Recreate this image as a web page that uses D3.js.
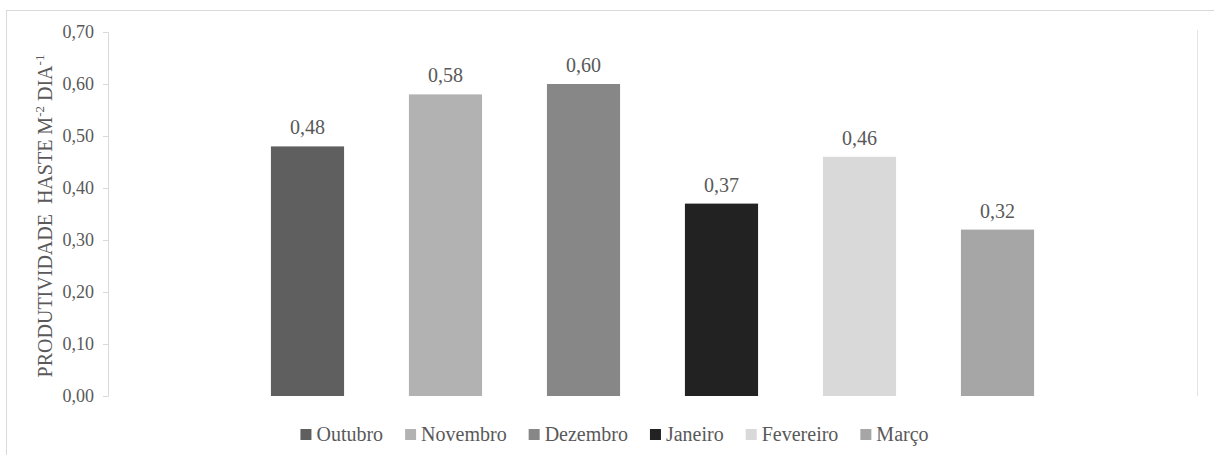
<!DOCTYPE html>
<html><head><meta charset="utf-8">
<script src="https://cdn.jsdelivr.net/npm/d3@7"></script>
</head><body style="margin:0;background:#fff">
<script>
const months = ["Outubro","Novembro","Dezembro","Janeiro","Fevereiro","Março"];
const values = [0.48,0.58,0.60,0.37,0.46,0.32];
const colors = ["#5f5f5f","#b2b2b2","#878787","#222222","#d9d9d9","#a6a6a6"];
const yTicks = [0,0.1,0.2,0.3,0.4,0.5,0.6,0.7];

(function(){
const FF="Liberation Serif";
const TC="#595959";
const W=1214,H=455;
const svg=d3.select("body").append("svg").attr("width",W).attr("height",H)
  .style("display","block").attr("font-family",FF);
svg.append("rect").attr("x",6.5).attr("y",10.5).attr("width",1230).attr("height",470)
  .attr("fill","none").attr("stroke","#d9d9d9");

const pLeft=108,pRight=1197,pTop=32,pBottom=396;
const y=d3.scaleLinear().domain([0,0.7]).range([pBottom,pTop]);
const x0=d3.scaleBand().domain(["g"]).range([pLeft,pRight]).paddingOuter(0.1576);
const x=d3.scaleBand().domain(months).range([x0("g"),x0("g")+x0.bandwidth()]).paddingInner(0.47).paddingOuter(0.235);

const fmt=v=>d3.format(".2f")(v).replace(".",",");
const ya=svg.append("g").attr("transform",`translate(${pLeft},0)`)
  .call(d3.axisLeft(y).tickValues(yTicks).tickFormat(fmt).tickSize(5).tickPadding(9));
ya.attr("font-family",FF).attr("font-size",18);
ya.select(".domain").attr("stroke","#d9d9d9").attr("d",`M-5,${pTop+0.5}H0.5V${pBottom+0.5}H-5`);
ya.selectAll(".tick line").attr("stroke","#d9d9d9");
ya.selectAll(".tick text").attr("font-family",FF).attr("font-size",18).attr("fill",TC).attr("dy","0.3em");

svg.append("line").attr("x1",pRight+0.5).attr("x2",pRight+0.5).attr("y1",30).attr("y2",pBottom)
  .attr("stroke","#e3e3e3");

svg.selectAll("rect.bar").data(months).join("rect").attr("class","bar")
  .attr("x",d=>x(d)).attr("width",x.bandwidth())
  .attr("y",(d,i)=>y(values[i])).attr("height",(d,i)=>y(0)-y(values[i]))
  .attr("fill",(d,i)=>colors[i]);

svg.selectAll("text.val").data(months).join("text").attr("class","val")
  .attr("x",d=>x(d)+x.bandwidth()/2).attr("y",(d,i)=>y(values[i])-12)
  .attr("text-anchor","middle").attr("fill",TC)
  .attr("font-family",FF).attr("font-size",20).text((d,i)=>fmt(values[i]));

const yt=svg.append("text").attr("transform","translate(52,216) rotate(-90)")
  .attr("text-anchor","middle").attr("fill",TC).attr("font-family",FF).attr("font-size",20);
yt.append("tspan").text("PRODUTIVIDADE\u00a0 HASTE M");
yt.append("tspan").attr("dy",-8).attr("font-size",13).text("-2");
yt.append("tspan").attr("dy",8).text(" DIA");
yt.append("tspan").attr("dy",-8).attr("font-size",13).text("-1");

const lg=svg.append("g");
let cx=0;
months.forEach((m,i)=>{
  const g=lg.append("g").attr("transform",`translate(${cx},0)`);
  g.append("rect").attr("x",0).attr("y",-12).attr("width",11).attr("height",11).attr("fill",colors[i]);
  const t=g.append("text").attr("x",16).attr("y",0).attr("fill",TC)
    .attr("font-family",FF).attr("font-size",20).text(m);
  cx+=16+t.node().getComputedTextLength()+22;
});
const totalW=cx-22;
lg.attr("transform",`translate(${614.5-totalW/2},441)`);
})();
</script>
</body></html>
